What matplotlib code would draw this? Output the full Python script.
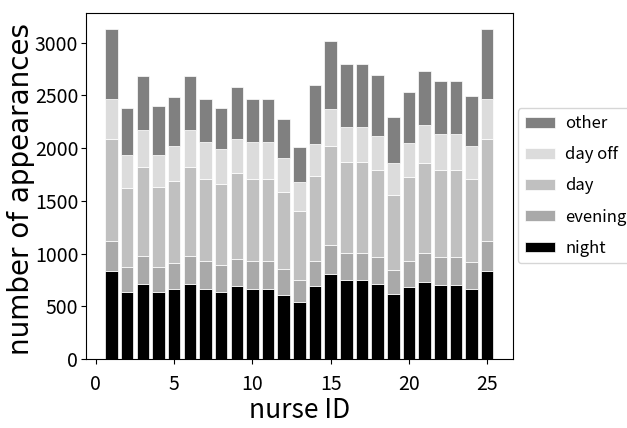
import numpy as np
import matplotlib.pyplot as plt

nurse_id = np.arange(1, 26)
night = [832, 639, 715, 639, 665, 715, 665, 639, 693, 665, 665, 611, 538,
         693, 804, 747, 747, 715, 614, 680, 734, 706, 706, 668, 832]
evening = [285, 235, 266, 238, 247, 266, 269, 257, 260, 269, 269, 247, 215,
           241, 275, 256, 256, 250, 228, 254, 269, 266, 266, 250, 285]
day = [966, 750, 845, 756, 781, 845, 778, 766, 807, 778, 778, 725, 649,
       800, 937, 864, 864, 826, 718, 791, 861, 819, 819, 785, 966]
day_off = [379, 307, 345, 304, 323, 345, 348, 332, 329, 348, 348, 322, 279,
           307, 358, 333, 333, 326, 295, 326, 352, 342, 342, 316, 379]
other = [665, 452, 516, 459, 472, 516, 402, 386, 494, 402, 402, 371, 329,
         557, 645, 601, 601, 576, 440, 481, 512, 500, 500, 478, 665]

series = [("night", night, "black"),
          ("evening", evening, "darkgray"),
          ("day", day, "silver"),
          ("day off", day_off, "gainsboro"),
          ("other", other, "gray")]

plt.rcParams["font.family"] = ["Noto Sans CJK JP", "DejaVu Sans"]

fig = plt.figure(figsize=(6.27, 4.28), dpi=100)
ax = fig.add_axes([0.137, 0.161, 0.681, 0.809])

bottom = np.zeros(len(nurse_id))
for name, vals, col in series:
    ax.bar(nurse_id, vals, bottom=bottom, color=col, label=name,
           edgecolor="white", linewidth=0.5)
    bottom += np.array(vals)

ax.set_xticks([0, 5, 10, 15, 20, 25])
ax.tick_params(labelsize=14)
ax.tick_params(axis="x", pad=7)
ax.tick_params(axis="y", pad=2)
ax.set_xlabel("nurse ID", fontsize=19, labelpad=1.5)
ax.set_ylabel("number of appearances", fontsize=20, family="DejaVu Sans")
ax.yaxis.set_label_coords(-0.12, 0.49)

handles, labels = ax.get_legend_handles_labels()
ax.legend(handles[::-1], labels[::-1], loc="center left",
          bbox_to_anchor=(1.0, 0.5), borderaxespad=0.3, fontsize=12,
          handlelength=1.8, handleheight=0.6, handletextpad=0.65,
          labelspacing=0.85)

fig.savefig("out.png", dpi=100)
